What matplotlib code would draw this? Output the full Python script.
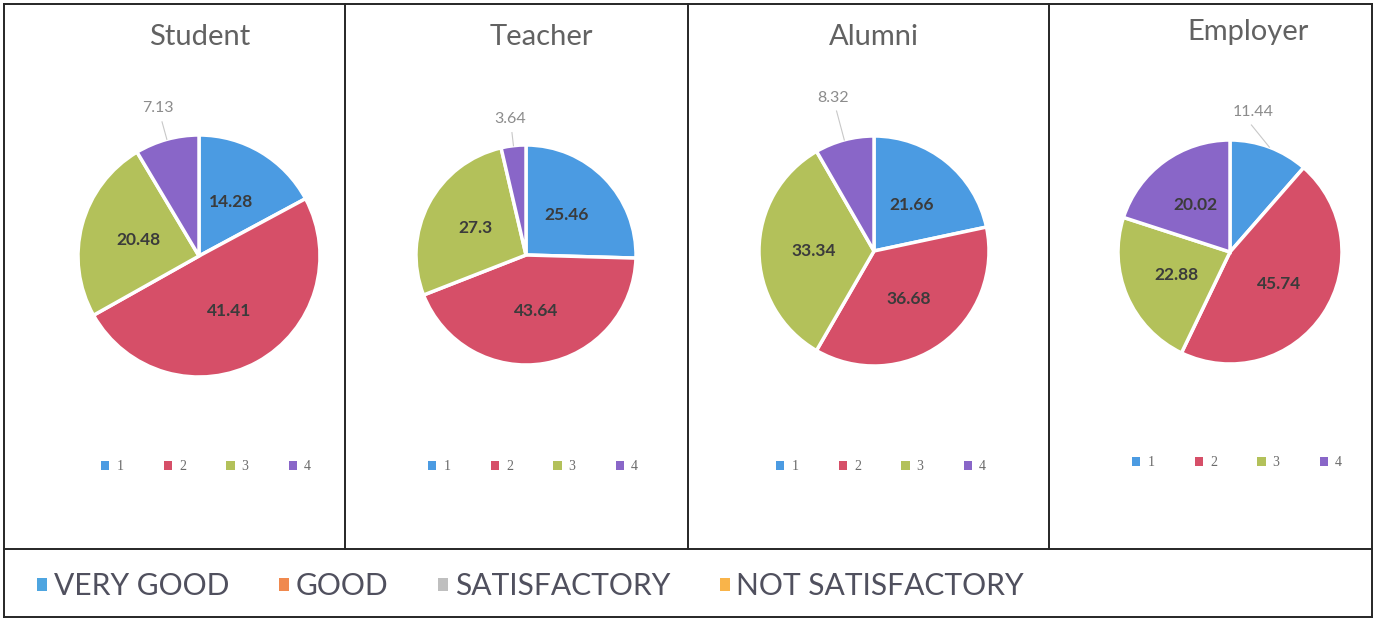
import matplotlib
matplotlib.use("Agg")  # headless
import matplotlib.pyplot as plt  # noqa: E402
import numpy as np  # noqa: E402
from matplotlib.lines import Line2D  # noqa: E402
from matplotlib.patches import Patch  # noqa: E402

# ---- data -------------------------------------------------------------
groups = ["Student", "Teacher", "Alumni", "Employer"]
slice_labels = ["1", "2", "3", "4"]
student = [14.28, 41.41, 20.48, 7.13]
teacher = [25.46, 43.64, 27.3, 3.64]
alumni = [21.66, 36.68, 33.34, 8.32]
employer = [11.44, 45.74, 22.88, 20.02]
rating_labels = ["VERY GOOD", "GOOD", "SATISFACTORY", "NOT SATISFACTORY"]

# ---- style / layout (pixels of a 1376x621 canvas) ---------------------
W, H = 1376, 621
PIE_COLORS = ["#4b9be2", "#d64f68", "#b3c15a", "#8966c8"]
RATING_COLORS = ["#4ea5e0", "#f0894e", "#bfbfbf", "#f9b44a"]
LINE = "#262626"

PIES = [(199, 256, 121), (526, 255, 110), (874, 251, 115), (1230, 252, 112)]
TITLE_POS = [(200, 37), (541, 37), (874, 37), (1248, 32)]
LEGEND_Y = [467, 467, 467, 463]
OUTSIDE = [3, 3, 3, 0]          # slice whose label sits outside the pie
OUT_R = [1.27, 1.24, 1.38, 1.27]
OUT_SHIFT = [0, 0, 0, 11]        # degrees

plt.rcParams["font.family"] = ["Lato", "DejaVu Sans"]


def fx(x):
    return x / W


def fy(y):
    return 1 - y / H


fig = plt.figure(figsize=(W / 100, H / 100), dpi=100, facecolor="white")

# table grid
for x0, y0, x1, y1 in [(4, 4, 1372, 4), (4, 617, 1372, 617), (4, 4, 4, 617),
                       (1372, 4, 1372, 617), (4, 549, 1372, 549),
                       (345, 4, 345, 549), (688, 4, 688, 549), (1049, 4, 1049, 549)]:
    fig.add_artist(Line2D([fx(x0), fx(x1)], [fy(y0), fy(y1)], color=LINE, lw=1.4))

for k, vals in enumerate([student, teacher, alumni, employer]):
    cx, cy, r = PIES[k]
    ax = fig.add_axes([fx(cx - r), fy(cy + r), 2 * r / W, 2 * r / H])
    wedges, _ = ax.pie(vals, colors=PIE_COLORS, startangle=90, counterclock=False,
                       wedgeprops=dict(edgecolor="white", linewidth=2.5))
    ax.set_xlim(-1, 1)
    ax.set_ylim(-1, 1)

    for i, (w, v) in enumerate(zip(wedges, vals)):
        ang = np.deg2rad((w.theta1 + w.theta2) / 2)
        if i == OUTSIDE[k]:
            a = ang + np.deg2rad(OUT_SHIFT[k])
            rr = OUT_R[k]
            ax.text(rr * np.cos(a), rr * np.sin(a), f"{v:g}", ha="center", va="center",
                    color="#8c8c8c", fontsize=11.5)
            ax.plot([1.0 * np.cos(ang), (rr - 0.12) * np.cos(a)],
                    [1.0 * np.sin(ang), (rr - 0.12) * np.sin(a)],
                    color="#c8c8c8", lw=0.8, clip_on=False)
        else:
            ax.text(0.52 * np.cos(ang), 0.52 * np.sin(ang), f"{v:g}", ha="center",
                    va="center", color="#3b3b3b", fontsize=12.5, fontweight="bold")

    tx, ty = TITLE_POS[k]
    fig.text(fx(tx), fy(ty), groups[k], ha="center", va="center", fontsize=21,
             color="#626262")

    handles = [Patch(facecolor=c, edgecolor="none") for c in PIE_COLORS]
    fig.legend(handles, slice_labels, loc="center", bbox_to_anchor=(fx(cx + 7), fy(LEGEND_Y[k])),
               ncol=4, frameon=False, fontsize=10, handlelength=0.6, handleheight=0.6,
               handletextpad=0.5, columnspacing=2.9, borderpad=0, borderaxespad=0,
               labelcolor="#6a6a6a", prop={"family": "Liberation Serif", "size": 10})

rating_handles = [Patch(facecolor=c, edgecolor="none") for c in RATING_COLORS]
fig.legend(rating_handles, rating_labels, loc="center left", bbox_to_anchor=(fx(37), fy(586)),
           ncol=4, frameon=False, fontsize=21.6, handlelength=0.34, handleheight=0.3,
           handletextpad=0.22, columnspacing=1.65, borderpad=0, borderaxespad=0,
           labelcolor="#50505e")

fig.savefig("out.png", dpi=100, facecolor="white")
